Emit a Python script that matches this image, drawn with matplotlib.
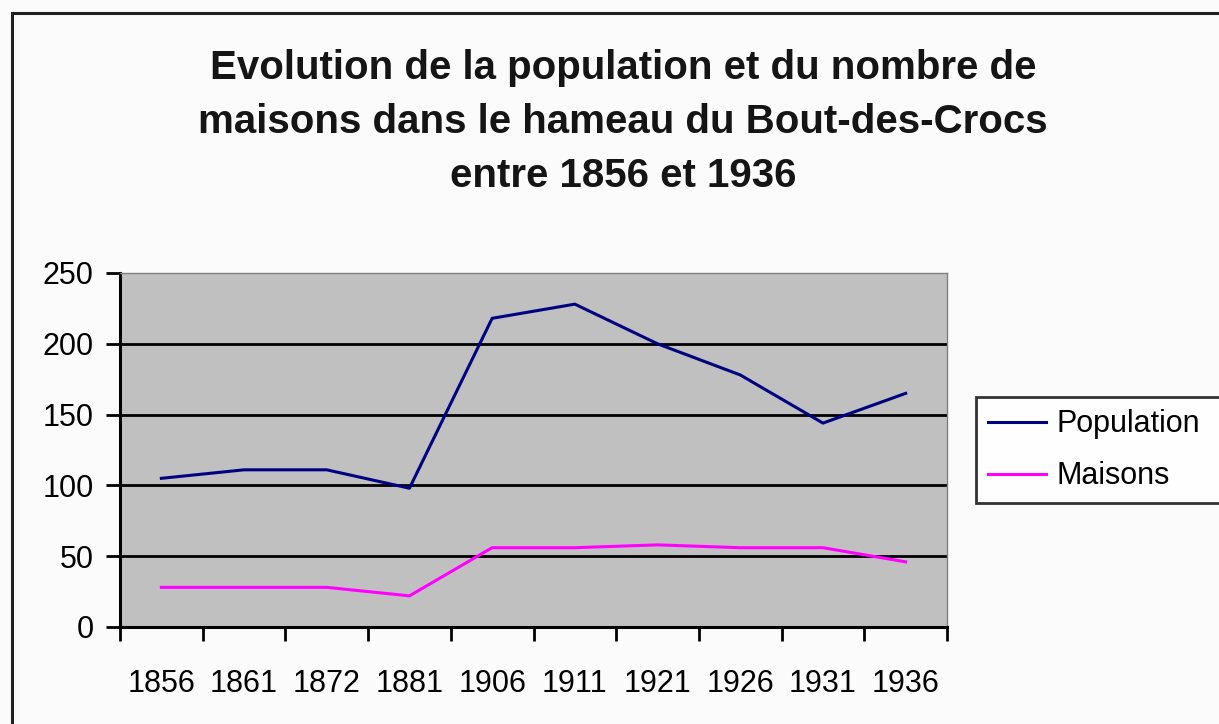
import matplotlib
matplotlib.use('Agg')
import matplotlib.pyplot as plt
from matplotlib.patches import Rectangle
import numpy as np

plt.rcParams['font.family'] = ['Liberation Sans', 'DejaVu Sans']

# donnees
annees = ['1856', '1861', '1872', '1881', '1906', '1911', '1921', '1926', '1931', '1936']
population = [105, 111, 111, 98, 218, 228, 200, 178, 144, 165]
maisons = [28, 28, 28, 22, 56, 56, 58, 56, 56, 46]
yticks = [0, 50, 100, 150, 200, 250]

W, H = 1219, 724
fig = plt.figure(figsize=(W / 100, H / 100), dpi=100, facecolor='#fbfbfb')

# cadre exterieur du graphique (coupe a droite et en bas)
fig.patches.append(Rectangle((12 / W, -0.1), 1.2, 1 - 13 / H + 0.1,
                             transform=fig.transFigure, fill=False,
                             edgecolor='#202020', linewidth=2.2))

ax = fig.add_axes([120 / W, 1 - 627 / H, (947 - 120) / W, (627 - 273) / H])
ax.set_facecolor('#c0c0c0')

x = np.arange(len(annees))
ax.plot(x, population, color='#000080', linewidth=2.2, label='Population')
ax.plot(x, maisons, color='#ff00ff', linewidth=2.2, label='Maisons')

ax.set_xlim(-0.5, len(annees) - 0.5)
ax.set_ylim(0, 250)
ax.set_yticks(yticks)
ax.set_yticklabels([str(v) for v in yticks])
for v in yticks[1:-1]:
    ax.axhline(v, color='black', linewidth=2.0, zorder=1)

ax.set_xticks(np.arange(-0.5, len(annees)), labels=[''] * (len(annees) + 1))
ax.set_xticks(x, labels=annees, minor=True)
ax.tick_params(axis='x', which='major', length=10, width=2, direction='out', color='black')
ax.tick_params(axis='x', which='minor', length=0, pad=30, labelsize=22)
ax.tick_params(axis='y', length=10, width=2, direction='out', pad=9, labelsize=22)

for s in ['left', 'bottom']:
    ax.spines[s].set_color('black')
    ax.spines[s].set_linewidth(2.2)
for s in ['top', 'right']:
    ax.spines[s].set_color('#808080')
    ax.spines[s].set_linewidth(1.0)

fig.text(623 / W, 1 - 122 / H,
         'Evolution de la population et du nombre de\n'
         'maisons dans le hameau du Bout-des-Crocs\n'
         'entre 1856 et 1936',
         ha='center', va='center', fontsize=29, fontweight='bold',
         linespacing=1.53, color='#151515')

leg = ax.legend(loc='upper left', bbox_to_anchor=(976 / W, 1 - 397 / H - 0.01, 400 / W, 0.01),
                bbox_transform=fig.transFigure, mode='expand', borderaxespad=0,
                fontsize=22, frameon=True, fancybox=False, handlelength=1.9,
                handletextpad=0.33, labelspacing=0.72, borderpad=0.4)
leg.get_frame().set_edgecolor('black')
leg.get_frame().set_linewidth(2.0)
leg.get_frame().set_facecolor('white')
for line in leg.get_lines():
    line.set_linewidth(2.2)

plt.savefig('out.png', dpi=100, facecolor=fig.get_facecolor())
